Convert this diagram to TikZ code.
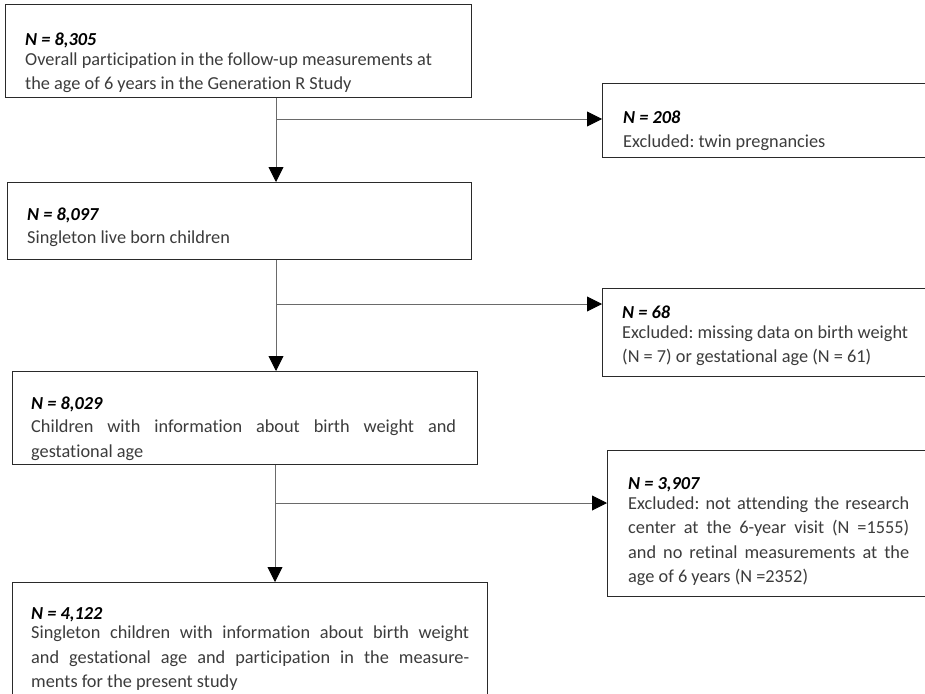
\documentclass[tikz,border=0pt]{standalone}
\usepackage{fontspec}
\setmainfont{Carlito}[Ligatures=CommonOff]
\usetikzlibrary{arrows.meta,calc}
\definecolor{txtc}{HTML}{3C3C3C}
\definecolor{boxc}{HTML}{2A2A2A}
\definecolor{linec}{HTML}{6A6A6A}
\newcommand{\Nh}[1]{{\color{black}\bfseries\itshape #1}}
\frenchspacing
\begin{document}
\begin{tikzpicture}[x=1pt,y=-1pt,
  boxr/.style={draw=boxc, line width=1.2pt, inner sep=0pt, anchor=north west, fill=white},
  txt/.style={inner sep=0pt, anchor=base west, text=txtc, font=\fontsize{18.3}{24.5}\selectfont},
  conn/.style={draw=linec, line width=0.9pt},
  arr/.style={conn, -{Triangle[length=15pt,width=15pt,color=black]}}]
\useasboundingbox (0,0) rectangle (925,693);
\clip (0,0) rectangle (925,693);
% boxes
\node[boxr, minimum width=466pt, minimum height=93pt] (b1) at (5,4) {};
\node[boxr, minimum width=464pt, minimum height=77pt] (b2) at (7,182) {};
\node[boxr, minimum width=465pt, minimum height=93pt] (b3) at (12,371) {};
\node[boxr, minimum width=475pt, minimum height=130pt] (b4) at (12,582) {};
\node[boxr, minimum width=340pt, minimum height=74pt] (r1) at (602,83) {};
\node[boxr, minimum width=340pt, minimum height=88pt] (r2) at (602,288) {};
\node[boxr, minimum width=340pt, minimum height=146pt] (r3) at (607,450) {};
% texts
\node[txt] (t1) at (25,33) {\parbox[t]{440pt}{\raggedright\Nh{N = 8,305}\\[-5pt]
Overall participation in the follow-up measurements at\\
the age of 6 years in the Generation R Study}};
\node[txt] (t2) at (27,208) {\parbox[t]{430pt}{\raggedright\Nh{N = 8,097}\\[-1.5pt]
Singleton live born children}};
\node[txt] (t3) at (31,397) {\parbox[t]{425pt}{\Nh{N = 8,029}\\[-1.5pt]
Children with information about birth weight and\linebreak
gestational age}};
\node[txt] (t4) at (31,607) {\parbox[t]{438pt}{\Nh{N = 4,122}\\[-5pt]
Singleton children with information about birth weight\linebreak
and gestational age and participation in the measure-\linebreak
ments for the present study}};
\node[txt] (s1) at (623,111) {\parbox[t]{290pt}{\raggedright\Nh{N = 208}\\[-1pt]
Excluded: twin pregnancies}};
\node[txt] (s2) at (622,306) {\parbox[t]{290pt}{\raggedright\Nh{N = 68}\\[-5pt]
Excluded: missing data on birth weight\\
(N = 7) or gestational age (N = 61)}};
\node[txt] (s3) at (628,478) {\parbox[t]{281pt}{\Nh{N = 3,907}\\[-5pt]
Excluded: not attending the research\linebreak
center at the 6-year visit (N =1555)\linebreak
and no retinal measurements at the\linebreak
age of 6 years (N =2352)}};
% connectors
\coordinate (j1) at (276,119);
\coordinate (j2) at (276,304);
\coordinate (j3) at (275,503);
\draw[conn] (b1.south -| j1) -- (j1);
\draw[arr] (j1) -- (j1 |- b2.north);
\draw[arr] (j1) -- (j1 -| r1.west);
\draw[conn] (b2.south -| j2) -- (j2);
\draw[arr] (j2) -- (j2 |- b3.north);
\draw[arr] (j2) -- (j2 -| r2.west);
\draw[conn] (b3.south -| j3) -- (j3);
\draw[arr] (j3) -- (j3 |- b4.north);
\draw[arr] (j3) -- (j3 -| r3.west);
\end{tikzpicture}
\end{document}
